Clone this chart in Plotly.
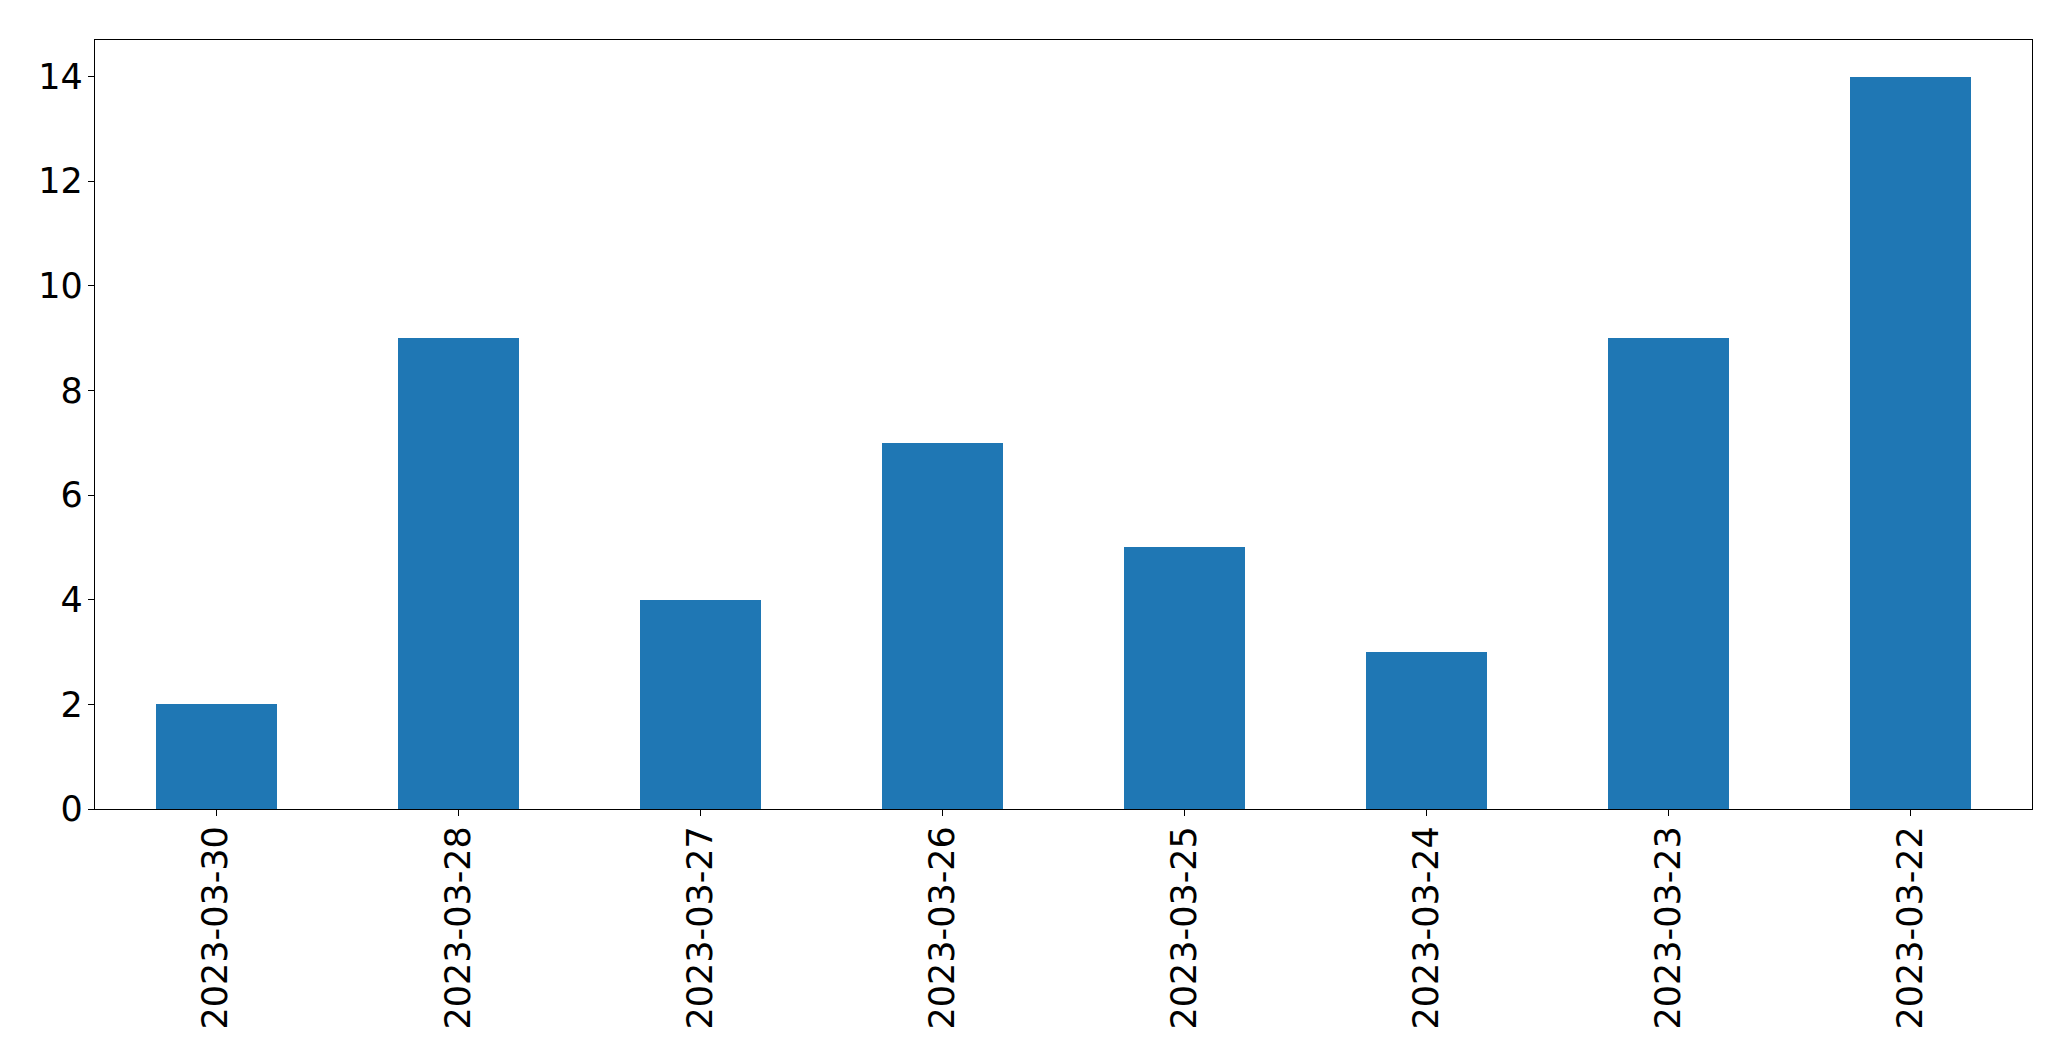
import plotly.graph_objects as go

dates = ["2023-03-30", "2023-03-28", "2023-03-27", "2023-03-26",
         "2023-03-25", "2023-03-24", "2023-03-23", "2023-03-22"]
counts = [2, 9, 4, 7, 5, 3, 9, 14]
y_ticks = [0, 2, 4, 6, 8, 10, 12, 14]

fig = go.Figure(go.Bar(x=dates, y=counts, marker_color="#1f77b4",
                       marker_line_width=0, width=0.5))

# page body has an 8px default margin; compensate
off = 8
W, H = 2071 - off, 1061 - off
left, right, top, bottom = 94.5 - off, 2032 - off, 39.5 - off, 809 - off
fig.update_layout(
    width=W, height=H,
    margin=dict(l=left, r=W - right, t=top, b=H - bottom, pad=0),
    paper_bgcolor="white", plot_bgcolor="white",
    font=dict(family="DejaVu Sans", size=35, color="black"),
    showlegend=False,
    bargap=0,
)
fig.update_xaxes(type="category", range=[-0.5, 7.5], tickangle=-90,
                 showline=True, linecolor="black", linewidth=1.3, mirror=True,
                 ticks="outside", ticklen=6, tickwidth=1.3, tickcolor="black",
                 showgrid=False, zeroline=False, tickfont=dict(size=35),
                 ticklabelstandoff=-4)
fig.update_yaxes(range=[0, 14.7], tickvals=y_ticks,
                 showline=True, linecolor="black", linewidth=1.3, mirror=True,
                 ticks="outside", ticklen=6, tickwidth=1.3, tickcolor="black",
                 showgrid=False, zeroline=False, tickfont=dict(size=35),
                 ticklabelstandoff=-2)

fig.write_html("out.html")
